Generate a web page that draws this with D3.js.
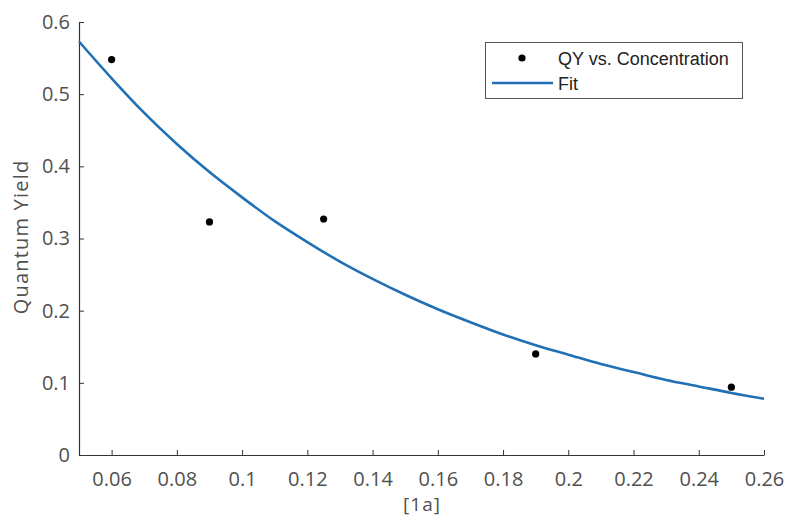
<!DOCTYPE html>
<html>
<head>
<meta charset="utf-8">
<script src="https://cdn.jsdelivr.net/npm/d3@7"></script>
<style>
  body { margin: 0; background: #fff; }
  svg { display: block; }
</style>
</head>
<body>
<svg id="chart" width="785" height="520"></svg>
<script>
// measured points
const concentration = [0.06, 0.09, 0.125, 0.19, 0.25];
const quantumYield = [0.548, 0.323, 0.327, 0.140, 0.094];

// fit curve
const fitX = [0.05, 0.06, 0.07, 0.08, 0.09, 0.10, 0.11, 0.12, 0.13, 0.14, 0.15,
              0.16, 0.17, 0.18, 0.19, 0.20, 0.21, 0.22, 0.23, 0.24, 0.25, 0.26];
const fitY = [0.573, 0.522, 0.474, 0.431, 0.392, 0.357, 0.324, 0.295, 0.268, 0.244, 0.222,
              0.202, 0.184, 0.167, 0.152, 0.139, 0.126, 0.115, 0.104, 0.095, 0.086, 0.078];

const xTicks = [0.06, 0.08, 0.1, 0.12, 0.14, 0.16, 0.18, 0.2, 0.22, 0.24, 0.26];
const yTicks = [0, 0.1, 0.2, 0.3, 0.4, 0.5, 0.6];
const legendLabels = ["QY vs. Concentration", "Fit"];

let svg = d3.select("#chart");

let canvas = {
  "marginLeft": 79,
  "marginTop": 22,
  "right": 764,
  "bottom": 455
};

let xScale = d3.scaleLinear()
  .domain([0.05, 0.26])
  .range([canvas.marginLeft, canvas.right]);

let yScale = d3.scaleLinear()
  .domain([0, 0.6])
  .range([canvas.bottom, canvas.marginTop]);

let tickFont = "'Open Sans', sans-serif";
let axisColor = "#333";
let textColor = "#505050";

// X-axis
let gx = svg.append("g")
  .attr("transform", `translate(0, ${canvas.bottom})`)
  .call(d3.axisBottom(xScale).tickValues(xTicks).tickSizeInner(-5).tickSizeOuter(0)
    .tickPadding(17).tickFormat(d => d3.format("")(+d.toFixed(2))));

// Y-axis
let gy = svg.append("g")
  .attr("transform", `translate(${canvas.marginLeft}, 0)`)
  .call(d3.axisLeft(yScale).tickValues(yTicks).tickSizeInner(-5).tickSizeOuter(0)
    .tickPadding(9).tickFormat(d => d3.format("")(+d.toFixed(1))));

for (let g of [gx, gy]) {
  g.select(".domain").attr("stroke", axisColor).attr("stroke-width", 1.2);
  g.selectAll(".tick line").attr("stroke", axisColor).attr("stroke-width", 1);
  g.selectAll(".tick text")
    .attr("fill", textColor)
    .attr("font-family", tickFont)
    .attr("font-size", "20px");
}

// axis labels
svg.append("text")
  .attr("x", 422)
  .attr("y", 511)
  .attr("text-anchor", "middle")
  .attr("fill", textColor)
  .attr("font-family", tickFont)
  .attr("font-size", "19px")
  .attr("letter-spacing", "1px")
  .text("[1a]");

svg.append("text")
  .attr("transform", "translate(28, 237) rotate(-90)")
  .attr("text-anchor", "middle")
  .attr("fill", textColor)
  .attr("font-family", tickFont)
  .attr("font-size", "20px")
  .attr("letter-spacing", "1.2px")
  .text("Quantum Yield");

// fit line
let line = d3.line()
  .x((d, i) => xScale(fitX[i]))
  .y(d => yScale(d))
  .curve(d3.curveMonotoneX);

svg.append("path")
  .datum(fitY)
  .attr("d", line)
  .attr("fill", "none")
  .attr("stroke", "#2170b5")
  .attr("stroke-width", 2.6);

// points
svg.append("g")
  .selectAll("circle")
  .data(concentration)
  .join("circle")
  .attr("cx", d => xScale(d))
  .attr("cy", (d, i) => yScale(quantumYield[i]))
  .attr("r", 3.6)
  .attr("fill", "#000");

// legend
let legend = svg.append("g");

legend.append("rect")
  .attr("x", 485.5)
  .attr("y", 42.5)
  .attr("width", 257)
  .attr("height", 56)
  .attr("fill", "#fff")
  .attr("stroke", "#555")
  .attr("stroke-width", 1);

legend.append("circle")
  .attr("cx", 522)
  .attr("cy", 58)
  .attr("r", 3.6)
  .attr("fill", "#000");

legend.append("line")
  .attr("x1", 492)
  .attr("x2", 553)
  .attr("y1", 83)
  .attr("y2", 83)
  .attr("stroke", "#2170b5")
  .attr("stroke-width", 2.6);

legend.selectAll(".legend-label")
  .data(legendLabels)
  .join("text")
  .attr("class", "legend-label")
  .attr("x", 558)
  .attr("y", (d, i) => 65 + i * 25)
  .attr("fill", "#222")
  .attr("font-family", "'Liberation Sans', Arial, sans-serif")
  .attr("font-size", "18px")
  .text(d => d);
</script>
</body>
</html>
